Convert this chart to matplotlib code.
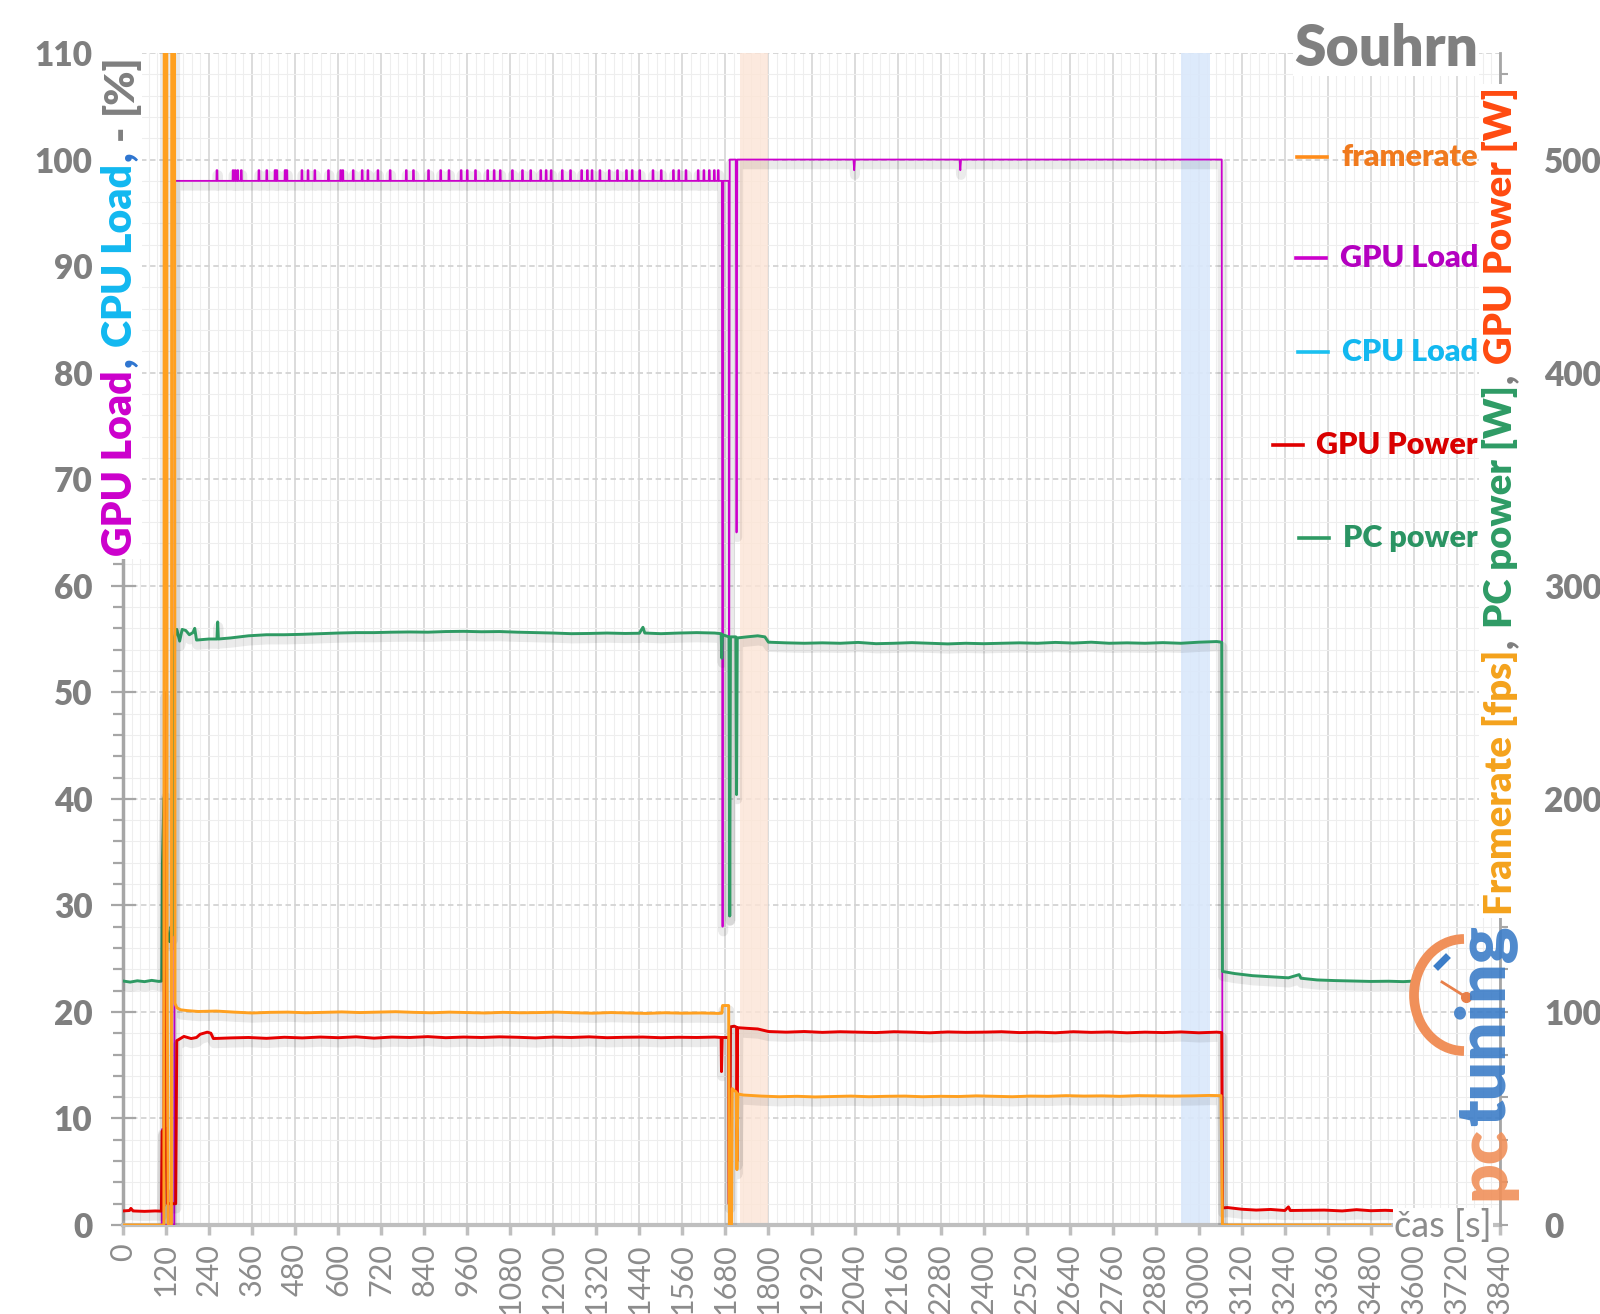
import numpy as np
import matplotlib
matplotlib.use("Agg")
import matplotlib.pyplot as plt
from matplotlib import patheffects as pe
from matplotlib.patches import Rectangle, Arc
from matplotlib.lines import Line2D
from matplotlib.ticker import MultipleLocator

plt.rcParams['font.family'] = ['Lato', 'DejaVu Sans']

# --- data: (time [s], value) ---
# GPU Load [%] (left axis)
GPU_LOAD = [(0, 0), (108, 0), (109, 9), (111, 9), (112, 0), (132, 0), (133, 3.3), (135, 3.3),
            (136, 0), (143, 0), (145, 98), (1670, 98), (1672, 28), (1674, 98), (1689, 98),
            (1690, 29), (1692, 100), (1709, 100), (1711, 65), (1713, 100), (2037, 100),
            (2039, 99), (2041, 100), (2333, 100), (2335, 99), (2337, 100), (3064, 100),
            (3066, 0), (3533, 0)]
# short 98 -> 99 % blips during the first run
GPU_LOAD_BLIPS = [262, 307, 313, 320, 330, 379, 401, 424, 429, 452, 457, 499, 516, 535, 573,
                  607, 613, 642, 667, 683, 711, 745, 790, 810, 852, 886, 909, 943, 960, 983,
                  1017, 1035, 1052, 1086, 1114, 1137, 1165, 1180, 1194, 1225, 1248, 1279, 1295,
                  1308, 1330, 1356, 1379, 1404, 1420, 1441, 1478, 1501, 1535, 1550, 1570, 1604,
                  1620, 1635, 1649, 1660]

# framerate [fps] (right axis)
FRAMERATE = [(0, 0), (114, 0), (116, 1200), (121, 1200), (123, 125), (126, 0), (135, 0),
             (137, 1200), (142, 1200), (145, 104), (150, 102), (160, 101), (180, 100.6),
             (210, 100.2), (260, 100.4), (310, 99.9), (360, 99.5), (410, 99.8), (460, 99.9),
             (510, 99.6), (560, 99.8), (610, 100), (660, 99.7), (710, 99.9), (760, 100.1),
             (810, 99.8), (860, 99.6), (910, 99.9), (960, 99.7), (1010, 99.5), (1060, 99.8),
             (1110, 99.6), (1160, 99.7), (1210, 99.9), (1260, 99.6), (1310, 99.4), (1360, 99.7),
             (1410, 99.5), (1460, 99.3), (1510, 99.6), (1560, 99.4), (1610, 99.5), (1660, 99.3),
             (1670, 99.4), (1672, 103), (1689, 103), (1691, 0), (1697, 0), (1699, 64),
             (1705, 63), (1710, 62.5), (1712, 26), (1715, 61.5), (1730, 61), (1780, 60.5),
             (1830, 60.2), (1880, 60.4), (1930, 60.1), (1980, 60.3), (2030, 60.5), (2080, 60.2),
             (2130, 60.4), (2180, 60.5), (2230, 60.2), (2280, 60.4), (2330, 60.3), (2380, 60.6),
             (2430, 60.4), (2480, 60.2), (2530, 60.5), (2580, 60.4), (2630, 60.7), (2680, 60.5),
             (2730, 60.6), (2780, 60.4), (2830, 60.7), (2880, 60.6), (2930, 60.5), (2980, 60.6),
             (3030, 60.8), (3062, 60.7), (3066, 0), (3533, 0)]

# GPU Power [W] (right axis)
GPU_POWER = [(0, 6.6), (18, 6.8), (22, 7.8), (28, 6.6), (60, 6.4), (90, 6.6), (107, 6.5),
             (109, 44), (111, 44), (112, 9), (114, 9), (116, 250), (118, 45), (121, 45),
             (124, 10), (147, 10), (150, 86.5), (170, 88.5), (190, 87.5), (205, 88), (215, 89.5),
             (235, 90.5), (245, 90), (252, 87.5), (300, 87.8), (350, 88), (400, 87.6), (450, 88.1),
             (500, 87.8), (550, 88.2), (600, 87.9), (650, 88.3), (700, 87.7), (750, 88.2),
             (800, 88), (850, 88.4), (900, 87.9), (950, 88.2), (1000, 88), (1050, 88.3),
             (1100, 88.1), (1150, 87.8), (1200, 88.2), (1250, 88), (1300, 88.3), (1350, 87.9),
             (1400, 88.1), (1450, 88.2), (1500, 87.9), (1550, 88.1), (1600, 88), (1650, 88.2),
             (1668, 88), (1669, 72), (1671, 88), (1689, 88), (1690, 10), (1692, 10), (1694, 93),
             (1705, 93.3), (1711, 92.8), (1712, 30), (1714, 92.6), (1740, 92.3), (1770, 92),
             (1800, 90.8), (1850, 90.5), (1900, 90.8), (1950, 90.4), (2000, 90.7), (2050, 90.5),
             (2100, 90.3), (2150, 90.7), (2200, 90.5), (2250, 90.2), (2300, 90.6), (2350, 90.4),
             (2400, 90.5), (2450, 90.7), (2500, 90.3), (2550, 90.5), (2600, 90.2), (2650, 90.7),
             (2700, 90.4), (2750, 90.6), (2800, 90.2), (2850, 90.5), (2900, 90.3), (2950, 90.6),
             (3000, 90.2), (3050, 90.5), (3064, 90.3), (3066, 8), (3080, 8.2), (3120, 7.4),
             (3160, 7), (3200, 7.3), (3240, 6.8), (3250, 8.5), (3255, 6.8), (3300, 6.9),
             (3350, 7), (3400, 6.6), (3440, 7.2), (3480, 6.7), (3520, 6.9), (3560, 6.6),
             (3597, 6.8)]

# PC power [W] (right axis)
PC_POWER = [(0, 114.5), (20, 114), (40, 114.6), (60, 114.2), (80, 114.8), (100, 114.3),
            (108, 114.5), (110, 170), (114, 200), (118, 203), (121, 140), (126, 135), (130, 133),
            (134, 140), (138, 136), (141, 190), (144, 276), (150, 279.5), (158, 274), (165, 279.5),
            (175, 279), (185, 277), (195, 278), (200, 280), (205, 274.5), (240, 275), (262, 275),
            (264, 283), (266, 275), (300, 275.5), (350, 276.5), (400, 277), (450, 277),
            (500, 277.2), (550, 277.5), (600, 277.8), (650, 278), (700, 278), (750, 278.2),
            (800, 278.3), (850, 278.2), (900, 278.5), (950, 278.6), (1000, 278.4), (1050, 278.5),
            (1100, 278.2), (1150, 278), (1200, 277.8), (1250, 277.5), (1300, 277.6), (1350, 277.8),
            (1400, 277.6), (1440, 277.7), (1450, 280.5), (1455, 277.8), (1500, 277.5),
            (1550, 277.8), (1600, 278), (1650, 277.8), (1668, 277.5), (1670, 266), (1672, 277),
            (1690, 276), (1692, 145), (1694, 276), (1709, 276), (1711, 202), (1713, 275.5),
            (1740, 276), (1770, 276.5), (1790, 276), (1800, 273.5), (1850, 273.2), (1900, 273),
            (1950, 273.2), (2000, 273), (2050, 273.4), (2100, 272.8), (2150, 273), (2200, 273.3),
            (2250, 273), (2300, 272.7), (2350, 273), (2400, 272.8), (2450, 273), (2500, 273.2),
            (2550, 273), (2600, 273.4), (2650, 273.1), (2700, 273.5), (2750, 273), (2800, 273.2),
            (2850, 273), (2900, 273.3), (2950, 273), (3000, 273.5), (3050, 273.8), (3064, 273.5),
            (3066, 119), (3100, 118), (3150, 117), (3200, 116.5), (3250, 116), (3280, 117.5),
            (3285, 115.8), (3330, 115), (3380, 114.7), (3430, 114.5), (3480, 114.3),
            (3530, 114.4), (3570, 114.2), (3603, 114.5)]

# highlighted time windows [s]
BAND_ORANGE = (1720, 1800)
BAND_BLUE = (2950, 3030)

LEGEND = [("framerate", "#FF8C1A", "#F07A1E"),
          ("GPU Load", "#CC00CC", "#B400C0"),
          ("CPU Load", "#1AC0F0", "#12B8F0"),
          ("GPU Power", "#E00000", "#D90000"),
          ("PC power", "#2E9A63", "#2A9463")]

W, H = 1600, 1314

fig = plt.figure(figsize=(16, 13.14), dpi=100)
ax = fig.add_axes([123 / W, 1 - 1225 / H, (1500 - 123) / W, (1225 - 53) / H])
ax2 = ax.twinx()
renderer = fig.canvas.get_renderer()

shadow = [pe.SimpleLineShadow(offset=(0.5, -3.5), shadow_color='k', alpha=0.08, linewidth=7),
          pe.Normal()]

# GPU load with blips
gl = sorted(GPU_LOAD + [(s + d, v) for s in GPU_LOAD_BLIPS
                        for d, v in ((-1.5, 98), (-1, 99), (1, 99), (1.5, 98))])
gl_t, gl_v = np.array(gl).T
ax.plot(gl_t, gl_v, color="#CC00CC", lw=1.3, path_effects=shadow, zorder=3)

ax.axvspan(*BAND_ORANGE, color="#FCE4D6", alpha=0.8, lw=0, zorder=1)
ax.axvspan(*BAND_BLUE, color="#DAE8FB", alpha=0.9, lw=0, zorder=1)

for series, color in ((PC_POWER, "#2E9A63"), (GPU_POWER, "#E60000"), (FRAMERATE, "#FFA020")):
    t, v = np.array(series).T
    ax2.plot(t, v, color=color, lw=2.1, path_effects=shadow)

ax.set_xlim(0, 3840)
ax.set_ylim(0, 110)
ax2.set_ylim(0, 550)

ax.xaxis.set_major_locator(MultipleLocator(120))
ax.xaxis.set_minor_locator(MultipleLocator(24))
ax.yaxis.set_major_locator(MultipleLocator(10))
ax.yaxis.set_minor_locator(MultipleLocator(2))
ax2.yaxis.set_major_locator(MultipleLocator(100))
ax2.yaxis.set_minor_locator(MultipleLocator(20))

ax.xaxis.grid(True, which='major', color="#D9D9D9", lw=1.3)
ax.xaxis.grid(True, which='minor', color="#EEEEEE", lw=0.8)
ax.yaxis.grid(True, which='major', color="#D3D3D3", lw=1.3, ls=(0, (3, 2)))
ax.yaxis.grid(True, which='minor', color="#EEEEEE", lw=0.8)
ax.set_axisbelow(True)

gray = "#7F7F7F"
ax.tick_params(axis='y', which='major', direction='inout', length=18, width=1.6,
               color="#A6A6A6", labelsize=24, labelcolor=gray, pad=13)
ax.tick_params(axis='y', which='minor', direction='out', length=7, width=1.6, color="#A6A6A6")
ax.tick_params(axis='x', which='major', direction='out', length=7, width=2.5, color="#BFBFBF",
               labelsize=22, labelcolor="#8C8C8C", labelrotation=90, pad=6)
ax.tick_params(axis='x', which='minor', length=0)
ax2.tick_params(axis='y', which='major', direction='out', length=6, width=1.5,
                color="#A6A6A6", labelsize=24, labelcolor=gray, pad=26)
ax2.tick_params(axis='y', which='minor', direction='out', length=6, width=1.5, color="#A6A6A6")
for lab in ax.get_yticklabels() + ax2.get_yticklabels():
    lab.set_fontweight('heavy')

for s in ('top', 'right'):
    ax.spines[s].set_visible(False)
for s in ('top', 'left', 'bottom'):
    ax2.spines[s].set_visible(False)
ax.spines['left'].set_color("#A6A6A6")
ax.spines['left'].set_linewidth(2.5)
ax.spines['bottom'].set_color("#BFBFBF")
ax.spines['bottom'].set_linewidth(3)
ax2.spines['right'].set_color("#A6A6A6")
ax2.spines['right'].set_linewidth(2)


def stacked_label(pieces, x, y_img, size, alpha=1.0, backdrop=True):
    """Place rotated text pieces one after another, going up from y_img (image px)."""
    y = H - y_img
    boxes = []
    for text, color, gap in pieces:
        t = fig.text(x / W, y / H, text, rotation=90, rotation_mode='anchor', ha='left',
                     va='baseline', color=color, fontsize=size, fontweight='heavy',
                     alpha=alpha, zorder=6)
        bb = t.get_window_extent(renderer)
        boxes.append(bb)
        y += bb.height + gap
    if backdrop:
        x0 = min(b.x0 for b in boxes) - 3
        x1 = max(b.x1 for b in boxes) + 3
        y0 = min(b.y0 for b in boxes) - 3
        y1 = max(b.y1 for b in boxes) + 3
        fig.add_artist(Rectangle((x0 / W, y0 / H), (x1 - x0) / W, (y1 - y0) / H,
                                 transform=fig.transFigure, fc='white', ec='none', zorder=5))


stacked_label([("GPU Load", "#CC00CC", 3), (",", "#2E75D0", 11), ("CPU Load", "#12B8F0", 3),
               (",", "#2E75D0", 11), ("-", gray, 11), ("[%]", gray, 0)], 132, 556, 29.5)
stacked_label([("Framerate [fps]", "#F4A21C", 2), (",", gray, 10), ("PC power [W]", "#2E9B65", 2),
               (",", gray, 10), ("GPU Power [W]", "#FF4A10", 0)], 1512, 915, 27.5)

# logo
stacked_label([("pc", "#F0905A", 0), ("tuning", "#3C7DC8", 0)], 1504, 1200, 50,
              alpha=0.9, backdrop=False)
fig.add_artist(Arc((1464 / W, 1 - 995 / H), 100 / W, 112 / H, theta1=90, theta2=270,
                   transform=fig.transFigure, color="#F0905A", lw=7, zorder=6))
fig.add_artist(Line2D([1442 / W, 1466 / W], [1 - 982 / H, 1 - 997 / H], transform=fig.transFigure,
                      color="#E8804A", lw=2, zorder=6))
fig.add_artist(Line2D([1466 / W], [1 - 997 / H], transform=fig.transFigure, marker='o', ms=7,
                      color="#E8804A", zorder=6))
fig.add_artist(Line2D([1438 / W, 1446 / W], [1 - 966 / H, 1 - 958 / H], transform=fig.transFigure,
                      color="#3C7DC8", lw=5, zorder=6))

# legend, right aligned text with short handle to the left
for (label, lc, tc), yc in zip(LEGEND, (157, 258, 352, 445, 538)):
    t = fig.text(1478 / W, 1 - yc / H, label, ha='right', va='center', fontsize=22,
                 fontweight='heavy', color=tc, zorder=6)
    bb = t.get_window_extent(renderer)
    x1 = bb.x0 - 14
    ym = (bb.y0 + bb.y1) / 2 / H
    fig.add_artist(Line2D([(x1 - 30) / W, x1 / W], [ym, ym], transform=fig.transFigure,
                          color=lc, lw=2.6, zorder=6))

fig.text(1478 / W, 1 - 66 / H, "Souhrn", ha='right', va='baseline', fontsize=41,
         fontweight='heavy', color="#808080", zorder=6,
         bbox=dict(fc='white', ec='none', pad=1))
fig.text(1443 / W, 1 - 1226 / H, "čas [s]", ha='center', va='center', fontsize=26,
         color="#8C8C8C", zorder=6, bbox=dict(fc='white', ec='none', pad=1))

fig.savefig("out.png", dpi=100)
